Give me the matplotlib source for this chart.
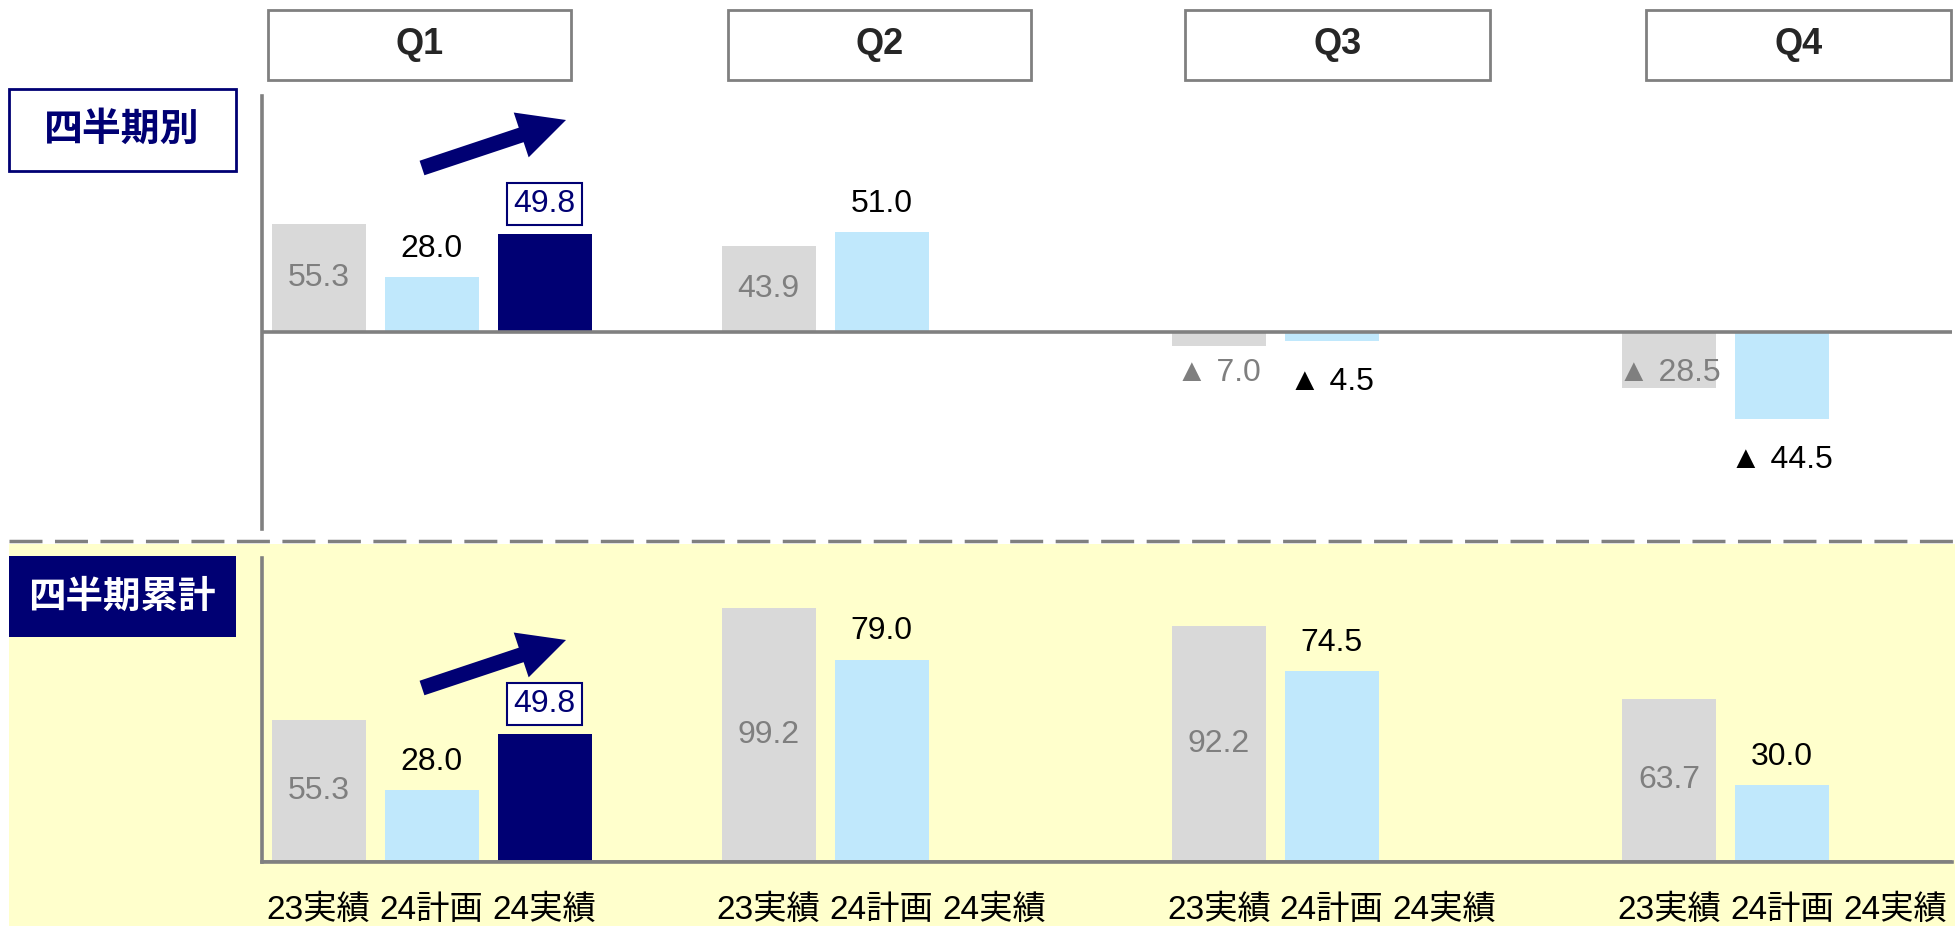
import matplotlib.pyplot as plt
import numpy as np
from matplotlib.patches import Rectangle, FancyArrowPatch
from matplotlib.lines import Line2D

plt.rcParams['font.family'] = ['Liberation Sans', 'Noto Sans CJK JP']

quarters = ['Q1', 'Q2', 'Q3', 'Q4']
series = ['23実績', '24計画', '24実績']

# 四半期別
qtr_23 = [55.3, 43.9, -7.0, -28.5]
qtr_24plan = [28.0, 51.0, -4.5, -44.5]
qtr_24act = [49.8, np.nan, np.nan, np.nan]

# 四半期累計
cum_23 = [55.3, 99.2, 92.2, 63.7]
cum_24plan = [28.0, 79.0, 74.5, 30.0]
cum_24act = [49.8, np.nan, np.nan, np.nan]

GRAY = '#d9d9d9'
BLUE = '#c0e8fc'
NAVY = '#000073'
LINE = '#808080'
TXT_GRAY = '#7f7f7f'
NUM_FS = 23

W, H = 1956, 926
def fx(x):
    return x / W
def fy(y):
    return 1 - y / H

fig = plt.figure(figsize=(W / 100, H / 100), dpi=100)

# yellow band + dashed separator
fig.add_artist(Rectangle((fx(9), 0), 1 - fx(9), fy(544), transform=fig.transFigure,
                         facecolor='#ffffcc', edgecolor='none', zorder=0))
fig.add_artist(Line2D([fx(9), 1], [fy(541), fy(541)], transform=fig.transFigure,
                      color=LINE, lw=2.5, dashes=(9.5, 3.6), zorder=1))

# quarter header boxes
q_box = [(268, 571), (728, 1031), (1185, 1490), (1646, 1951)]
for q, (x0, x1) in zip(quarters, q_box):
    fig.add_artist(Rectangle((fx(x0), fy(80)), fx(x1) - fx(x0), fy(10) - fy(80),
                             transform=fig.transFigure, facecolor='white',
                             edgecolor=LINE, lw=2))
    fig.text(fx((x0 + x1) / 2), fy(45), q, ha='center', va='center',
             fontsize=26, fontweight='bold', color='#262626')

# section labels
fig.add_artist(Rectangle((fx(9), fy(171)), fx(236) - fx(9), fy(89) - fy(171),
                         transform=fig.transFigure, facecolor='white',
                         edgecolor=NAVY, lw=2))
fig.text(fx(122), fy(129), '四半期別', ha='center', va='center', fontsize=28,
         fontweight='bold', color=NAVY, family='Noto Sans CJK JP')
fig.add_artist(Rectangle((fx(9), fy(637)), fx(236) - fx(9), fy(556) - fy(637),
                         transform=fig.transFigure, facecolor=NAVY,
                         edgecolor='none'))
fig.text(fx(122), fy(596), '四半期累計', ha='center', va='center', fontsize=27,
         fontweight='bold', color='white', family='Noto Sans CJK JP')

step = 0.251
bw = 0.209
xl = (-0.126, 3.629)


def draw_panel(ax, s23, splan, sact, ylim, neg_gray_y):
    x = np.arange(len(quarters))
    ax.set_xlim(*xl)
    ax.set_ylim(*ylim)
    ax.patch.set_alpha(0)
    for sp in ['top', 'right', 'bottom']:
        ax.spines[sp].set_visible(False)
    ax.spines['left'].set_color(LINE)
    ax.spines['left'].set_linewidth(2.6)
    ax.axhline(0, color=LINE, lw=2.6, zorder=3)
    ax.set_xticks([])
    ax.set_yticks([])

    ax.bar(x, s23, bw, color=GRAY, zorder=2)
    ax.bar(x + step, splan, bw, color=BLUE, zorder=2)
    ax.bar(x + 2 * step, sact, bw, color=NAVY, zorder=2)

    for i in x:
        v = s23[i]
        if v >= 0:
            ax.text(i, v / 2, f'{v:.1f}', ha='center', va='center',
                    fontsize=NUM_FS, color=TXT_GRAY, zorder=4)
        else:
            ax.text(i, neg_gray_y, f'▲ {abs(v):.1f}', ha='center', va='center',
                    fontsize=NUM_FS, color=TXT_GRAY, zorder=4)
        v = splan[i]
        if v >= 0:
            ax.annotate(f'{v:.1f}', (i + step, v), xytext=(0, 20.5),
                        textcoords='offset points', ha='center', va='center',
                        fontsize=NUM_FS, color='black')
        else:
            ax.annotate(f'▲ {abs(v):.1f}', (i + step, v), xytext=(0, -29.5),
                        textcoords='offset points', ha='center', va='center',
                        fontsize=NUM_FS, color='black')
        v = sact[i]
        if not np.isnan(v):
            ax.annotate(f'{v:.1f}', (i + 2 * step, v), xytext=(0, 22),
                        textcoords='offset points', ha='center', va='center',
                        fontsize=NUM_FS, color=NAVY,
                        bbox=dict(boxstyle='square,pad=0.2', fc='white',
                                  ec=NAVY, lw=1.5))


# top panel: 四半期別
ax1 = fig.add_axes([fx(262), fy(529), fx(1952) - fx(262), fy(96) - fy(529)])
draw_panel(ax1, qtr_23, qtr_24plan, qtr_24act, (-100.6, 120.5), -21)

# bottom panel: 四半期累計
ax2 = fig.add_axes([fx(262), fy(862), fx(1952) - fx(262), fy(558) - fy(862)])
draw_panel(ax2, cum_23, cum_24plan, cum_24act, (0, 118.7), -21)
ax2.spines['bottom'].set_visible(True)
ax2.spines['bottom'].set_color(LINE)
ax2.spines['bottom'].set_linewidth(2.6)

# category labels under every group
for i in range(len(quarters)):
    for k, lbl in enumerate(series):
        ax2.annotate(lbl, (i + k * step, 0), xytext=(0, -41),
                     textcoords='offset points', ha='center', va='baseline',
                     fontsize=24, color='black', annotation_clip=False)

# trend arrows
for dy in (0, 520):
    fig.add_artist(FancyArrowPatch((fx(422), fy(168 + dy)), (fx(566), fy(120 + dy)),
                                   transform=fig.transFigure,
                                   arrowstyle='simple,head_width=34,head_length=34,tail_width=11',
                                   mutation_scale=1, shrinkA=0, shrinkB=0,
                                   color=NAVY, lw=0, zorder=5))

fig.savefig('out.png', dpi=100)
